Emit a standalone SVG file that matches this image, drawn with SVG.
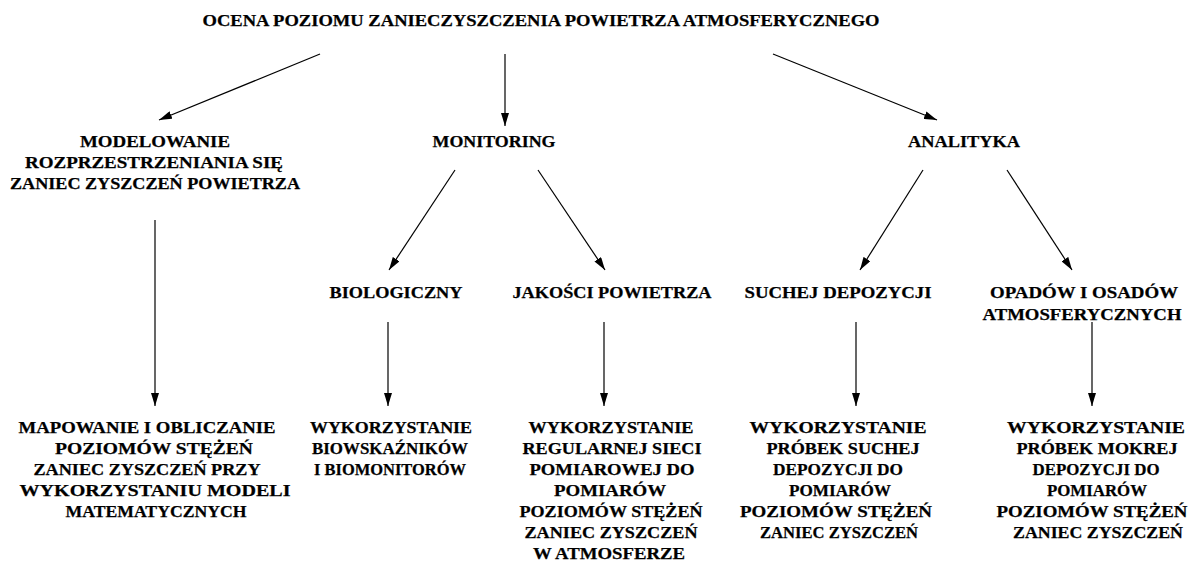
<svg xmlns="http://www.w3.org/2000/svg" width="1190" height="563" viewBox="0 0 1190 563">
  <style>
    .t { font-family: "Liberation Serif", "Times New Roman", serif; font-weight: bold; font-size: 17px; text-anchor: middle; fill: #000; stroke: #000; stroke-width: 0.25; }
    .c { stroke: #000; stroke-width: 1.2; fill: none; marker-end: url(#ah); }
  </style>
  <defs>
    <marker id="ah" markerUnits="userSpaceOnUse" markerWidth="14" markerHeight="8" refX="13" refY="4" orient="auto">
      <path d="M0,0 L13,4 L0,8 z" fill="#000"/>
    </marker>
  </defs>
  <rect width="1190" height="563" fill="#fff"/>

  <g id="connectors">
    <line class="c" x1="320" y1="54" x2="159" y2="120"/>
    <line class="c" x1="505" y1="54" x2="505" y2="126"/>
    <line class="c" x1="773" y1="54" x2="937" y2="120"/>
    <line class="c" x1="455" y1="170" x2="389" y2="270"/>
    <line class="c" x1="538" y1="170" x2="605" y2="270"/>
    <line class="c" x1="923" y1="170" x2="860" y2="270"/>
    <line class="c" x1="1007" y1="170" x2="1072" y2="270"/>
    <line class="c" x1="155" y1="220" x2="155" y2="406"/>
    <line class="c" x1="388" y1="322" x2="388" y2="406"/>
    <line class="c" x1="604" y1="322" x2="604" y2="406"/>
    <line class="c" x1="856" y1="322" x2="856" y2="406"/>
    <line class="c" x1="1092" y1="322" x2="1092" y2="406"/>
  </g>

  <g id="root">
    <text class="t" x="541" y="26" textLength="677" lengthAdjust="spacingAndGlyphs">OCENA POZIOMU ZANIECZYSZCZENIA POWIETRZA ATMOSFERYCZNEGO</text>
  </g>

  <g id="modelowanie">
    <text class="t" x="155" y="147" textLength="150" lengthAdjust="spacingAndGlyphs">MODELOWANIE</text>
    <text class="t" x="154" y="168" textLength="258" lengthAdjust="spacingAndGlyphs">ROZPRZESTRZENIANIA SIĘ</text>
    <text class="t" x="155" y="189" textLength="290" lengthAdjust="spacingAndGlyphs">ZANIEC ZYSZCZEŃ POWIETRZA</text>
  </g>

  <g id="monitoring">
    <text class="t" x="494" y="147" textLength="123" lengthAdjust="spacingAndGlyphs">MONITORING</text>
  </g>

  <g id="analityka">
    <text class="t" x="964" y="147" textLength="112" lengthAdjust="spacingAndGlyphs">ANALITYKA</text>
  </g>

  <g id="biologiczny">
    <text class="t" x="396" y="298" textLength="133" lengthAdjust="spacingAndGlyphs">BIOLOGICZNY</text>
  </g>

  <g id="jakosci">
    <text class="t" x="612" y="298" textLength="199" lengthAdjust="spacingAndGlyphs">JAKOŚCI POWIETRZA</text>
  </g>

  <g id="suchej">
    <text class="t" x="838" y="298" textLength="187" lengthAdjust="spacingAndGlyphs">SUCHEJ DEPOZYCJI</text>
  </g>

  <g id="opadow">
    <text class="t" x="1084" y="298" textLength="188" lengthAdjust="spacingAndGlyphs">OPADÓW I OSADÓW</text>
    <text class="t" x="1082" y="320" textLength="199" lengthAdjust="spacingAndGlyphs">ATMOSFERYCZNYCH</text>
  </g>

  <g id="mapowanie">
    <text class="t" x="147" y="433" textLength="257" lengthAdjust="spacingAndGlyphs">MAPOWANIE I OBLICZANIE</text>
    <text class="t" x="154" y="454" textLength="198" lengthAdjust="spacingAndGlyphs">POZIOMÓW STĘŻEŃ</text>
    <text class="t" x="147" y="475" textLength="227" lengthAdjust="spacingAndGlyphs">ZANIEC ZYSZCZEŃ PRZY</text>
    <text class="t" x="155" y="496" textLength="271" lengthAdjust="spacingAndGlyphs">WYKORZYSTANIU MODELI</text>
    <text class="t" x="156" y="517" textLength="181" lengthAdjust="spacingAndGlyphs">MATEMATYCZNYCH</text>
  </g>

  <g id="bioindykatory">
    <text class="t" x="391" y="433" textLength="162" lengthAdjust="spacingAndGlyphs">WYKORZYSTANIE</text>
    <text class="t" x="390" y="454" textLength="156" lengthAdjust="spacingAndGlyphs">BIOWSKAŹNIKÓW</text>
    <text class="t" x="390" y="475" textLength="152" lengthAdjust="spacingAndGlyphs">I BIOMONITORÓW</text>
  </g>

  <g id="siec">
    <text class="t" x="611" y="433" textLength="165" lengthAdjust="spacingAndGlyphs">WYKORZYSTANIE</text>
    <text class="t" x="612" y="454" textLength="179" lengthAdjust="spacingAndGlyphs">REGULARNEJ SIECI</text>
    <text class="t" x="612" y="475" textLength="165" lengthAdjust="spacingAndGlyphs">POMIAROWEJ DO</text>
    <text class="t" x="610" y="496" textLength="112" lengthAdjust="spacingAndGlyphs">POMIARÓW</text>
    <text class="t" x="611" y="517" textLength="183" lengthAdjust="spacingAndGlyphs">POZIOMÓW STĘŻEŃ</text>
    <text class="t" x="611" y="538" textLength="173" lengthAdjust="spacingAndGlyphs">ZANIEC ZYSZCZEŃ</text>
    <text class="t" x="609" y="559" textLength="152" lengthAdjust="spacingAndGlyphs">W ATMOSFERZE</text>
  </g>

  <g id="sucha-depozycja">
    <text class="t" x="838" y="433" textLength="177" lengthAdjust="spacingAndGlyphs">WYKORZYSTANIE</text>
    <text class="t" x="843" y="454" textLength="153" lengthAdjust="spacingAndGlyphs">PRÓBEK SUCHEJ</text>
    <text class="t" x="838" y="475" textLength="130" lengthAdjust="spacingAndGlyphs">DEPOZYCJI DO</text>
    <text class="t" x="840" y="496" textLength="102" lengthAdjust="spacingAndGlyphs">POMIARÓW</text>
    <text class="t" x="836" y="517" textLength="192" lengthAdjust="spacingAndGlyphs">POZIOMÓW STĘŻEŃ</text>
    <text class="t" x="839" y="538" textLength="158" lengthAdjust="spacingAndGlyphs">ZANIEC ZYSZCZEŃ</text>
  </g>

  <g id="mokra-depozycja">
    <text class="t" x="1096" y="433" textLength="178" lengthAdjust="spacingAndGlyphs">WYKORZYSTANIE</text>
    <text class="t" x="1097" y="454" textLength="161" lengthAdjust="spacingAndGlyphs">PRÓBEK MOKREJ</text>
    <text class="t" x="1096" y="475" textLength="127" lengthAdjust="spacingAndGlyphs">DEPOZYCJI DO</text>
    <text class="t" x="1097" y="496" textLength="100" lengthAdjust="spacingAndGlyphs">POMIARÓW</text>
    <text class="t" x="1092" y="517" textLength="191" lengthAdjust="spacingAndGlyphs">POZIOMÓW STĘŻEŃ</text>
    <text class="t" x="1098" y="538" textLength="170" lengthAdjust="spacingAndGlyphs">ZANIEC ZYSZCZEŃ</text>
  </g>
</svg>
